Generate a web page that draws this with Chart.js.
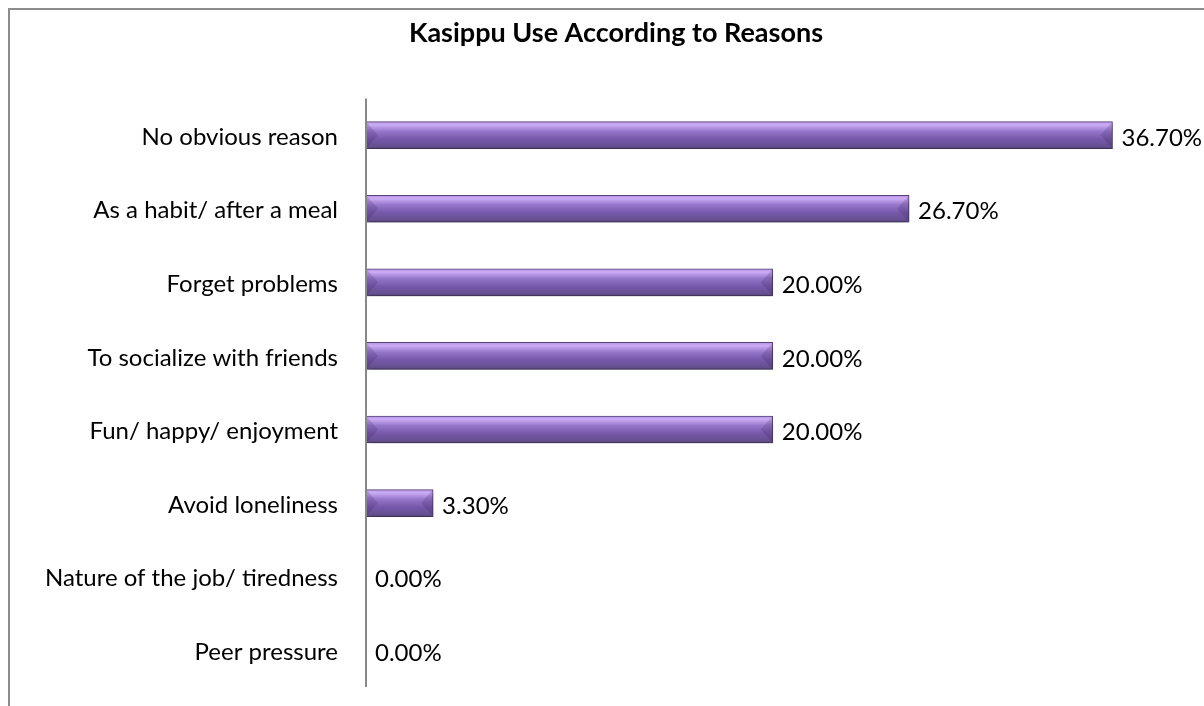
<!DOCTYPE html>
<html>
<head>
<meta charset="utf-8">
<script src="https://cdn.jsdelivr.net/npm/chart.js@4.4.1/dist/chart.umd.min.js"></script>
<style>
  html, body { margin: 0; padding: 0; background: #fff; overflow: hidden; }
  #frame {
    position: absolute; left: 8px; top: 8px; width: 1300px; height: 800px;
    border-left: 2px solid #8c8c8c; border-top: 2px solid #8c8c8c;
  }
  #wrap { position: absolute; left: 0; top: 0; width: 1204px; height: 706px; }
</style>
</head>
<body>
<div id="frame"></div>
<div id="wrap"><canvas id="reasonsChart"></canvas></div>
<script>
// reasons for use, top to bottom
const reasons = [
    'No obvious reason',
    'As a habit/ after a meal',
    'Forget problems',
    'To socialize with friends',
    'Fun/ happy/ enjoyment',
    'Avoid loneliness',
    'Nature of the job/ tiredness',
    'Peer pressure'
];
const percentages = [36.7, 26.7, 20.0, 20.0, 20.0, 3.3, 0.0, 0.0];

const FONT = 'Lato, "Open Sans", sans-serif';
const BAR_H = 27;

// glossy purple fill, built per bar from its own top/bottom
const barFill = (context) => {
    const chart = context.chart;
    const yScale = chart.scales.y;
    if (!yScale || context.dataIndex === undefined) return '#7a5cb0';
    const yc = yScale.getPixelForValue(context.dataIndex);
    if (!isFinite(yc)) return '#7a5cb0';
    const g = chart.ctx.createLinearGradient(0, yc - BAR_H / 2, 0, yc + BAR_H / 2);
    g.addColorStop(0, '#b592e4');
    g.addColorStop(0.12, '#cdacf6');
    g.addColorStop(0.35, '#9677cb');
    g.addColorStop(0.65, '#7658aa');
    g.addColorStop(0.92, '#654f90');
    g.addColorStop(1, '#4f4170');
    return g;
};

// drop shadow under the bars
const barShadow = {
    id: 'barShadow',
    beforeDatasetDraw(chart) {
        const ctx = chart.ctx;
        ctx.save();
        ctx.shadowColor = 'rgba(0, 0, 0, 0.35)';
        ctx.shadowBlur = 6;
        ctx.shadowOffsetX = 1;
        ctx.shadowOffsetY = 4;
    },
    afterDatasetDraw(chart) {
        chart.ctx.restore();
    }
};

// bevelled ends plus value labels
const barExtras = {
    id: 'barExtras',
    afterDatasetsDraw(chart) {
        const ctx = chart.ctx;
        const meta = chart.getDatasetMeta(0);
        ctx.save();
        meta.data.forEach((bar, i) => {
            const left = bar.base;
            const right = bar.x;
            const top = bar.y - BAR_H / 2;
            const bot = bar.y + BAR_H / 2;
            const len = right - left;
            if (len > 4) {
                const b = Math.min(12, len / 3);
                ctx.fillStyle = 'rgba(40, 20, 70, 0.16)';
                ctx.beginPath();
                ctx.moveTo(left, top);
                ctx.lineTo(left + b, bar.y);
                ctx.lineTo(left, bot);
                ctx.closePath();
                ctx.fill();
                ctx.beginPath();
                ctx.moveTo(right, top);
                ctx.lineTo(right - b, bar.y);
                ctx.lineTo(right, bot);
                ctx.closePath();
                ctx.fill();
            }
            ctx.fillStyle = '#000';
            ctx.font = '24px ' + FONT;
            ctx.textAlign = 'left';
            ctx.textBaseline = 'middle';
            ctx.fillText(percentages[i].toFixed(2) + '%', right + 9, bar.y + 3);
        });
        ctx.restore();
    }
};

// vertical category axis line
const axisLine = {
    id: 'axisLine',
    afterDraw(chart) {
        const a = chart.chartArea;
        const ctx = chart.ctx;
        ctx.save();
        ctx.strokeStyle = '#888888';
        ctx.lineWidth = 2;
        ctx.beginPath();
        ctx.moveTo(a.left, a.top);
        ctx.lineTo(a.left, a.bottom);
        ctx.stroke();
        ctx.restore();
    }
};

new Chart(document.getElementById('reasonsChart'), {
    type: 'bar',
    data: {
        labels: reasons,
        datasets: [{
            data: percentages,
            backgroundColor: barFill,
            borderColor: '#56467a',
            borderWidth: 1,
            borderSkipped: false,
            barThickness: BAR_H
        }]
    },
    options: {
        indexAxis: 'y',
        responsive: true,
        maintainAspectRatio: false,
        animation: false,
        layout: { padding: { left: 28, right: 0, top: 0, bottom: 19 } },
        plugins: {
            legend: { display: false },
            tooltip: { enabled: false },
            title: {
                display: true,
                text: 'Kasippu Use According to Reasons',
                color: '#000',
                font: { family: FONT, size: 27, weight: 'bold' },
                padding: { top: 17, bottom: 49 }
            }
        },
        scales: {
            x: { display: false, min: 0, max: 41.2 },
            y: {
                grid: { display: false, drawTicks: false },
                border: { display: false },
                ticks: {
                    color: '#000',
                    padding: 28,
                    labelOffset: 2,
                    font: { family: FONT, size: 24 }
                },
                afterFit(scale) {
                    scale.width = 338;
                    scale.paddingTop = 0;
                    scale.paddingBottom = 0;
                }
            }
        }
    },
    plugins: [barShadow, barExtras, axisLine]
});
</script>
</body>
</html>
